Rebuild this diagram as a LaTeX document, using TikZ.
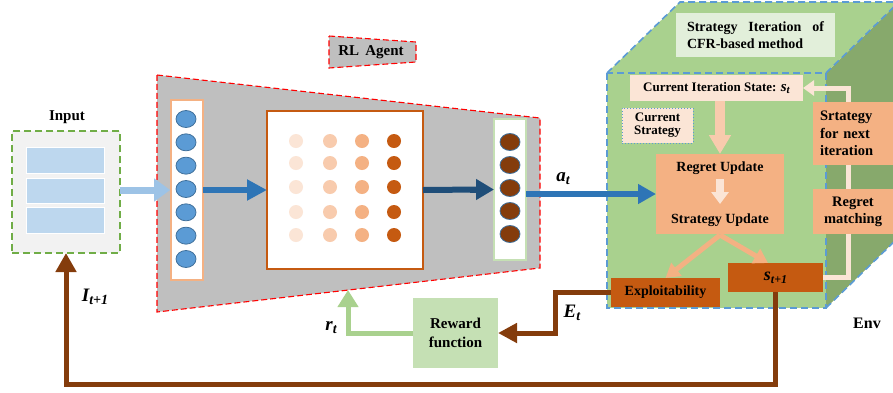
\documentclass[tikz,border=0pt]{standalone}
\usepackage{fontspec}
\setmainfont{Liberation Serif}
\usetikzlibrary{arrows.meta,shapes.geometric,calc}
\definecolor{inblue}{HTML}{BDD7EE}
\definecolor{ltblue}{HTML}{9DC3E6}
\definecolor{midblue}{HTML}{2E75B6}
\definecolor{dkblue}{HTML}{1F4E79}
\definecolor{nodeblue}{HTML}{5B9BD5}
\definecolor{nodeblueb}{HTML}{41719C}
\definecolor{agentgray}{HTML}{BFBFBF}
\definecolor{peachA}{HTML}{FBE5D6}
\definecolor{peachB}{HTML}{F8CBAD}
\definecolor{peachC}{HTML}{F4B183}
\definecolor{rust}{HTML}{C55A11}
\definecolor{brownc}{HTML}{843C0C}
\definecolor{lgreen}{HTML}{C5E0B4}
\definecolor{mgreen}{HTML}{A9D18E}
\definecolor{dgreen}{HTML}{87A96C}
\definecolor{pgreen}{HTML}{E2EFDA}
\definecolor{dashgreen}{HTML}{70AD47}
\definecolor{boxgray}{HTML}{F2F2F2}
\newcommand{\sbs}[2]{\raisebox{-0.35ex}{\fontsize{#1}{#1}\selectfont #2}}
\tikzset{
  plain/.style={inner sep=0pt, outer sep=0pt, align=center},
  lbl/.style={plain, font=\fontsize{14}{17}\selectfont\bfseries},
  mlab/.style={plain, font=\fontsize{19}{21}\selectfont\bfseries\itshape},
  lnode/.style={ellipse, draw=nodeblueb, line width=0.8pt, fill=nodeblue, minimum width=20pt, minimum height=17pt, inner sep=0pt},
  rnode/.style={ellipse, draw=nodeblueb, line width=0.8pt, fill=brownc, minimum width=20pt, minimum height=17pt, inner sep=0pt},
  envdash/.style={draw=nodeblue, line width=1.6pt, dash pattern=on 7pt off 4pt},
}
\begin{document}
\begin{tikzpicture}[x=1pt,y=-1pt]
\useasboundingbox (0,0) rectangle (893,392);
\clip (0,0) rectangle (893,392);
% ---------- Env cube ----------
\fill[dgreen] (826,73) -- (899,2) -- (899,237) -- (826,308) -- cycle;
\fill[mgreen] (607,73) -- (680,2) -- (899,2) -- (826,73) -- cycle;
\fill[mgreen] (607,73) rectangle (826,308);
\draw[envdash] (607,73) -- (680,2) -- (899,2);
\draw[envdash] (607,73) rectangle (826,308);
\draw[envdash] (826,73) -- (899,2);
\draw[envdash] (826,308) -- (899,237);
\node[plain, fill=pgreen, minimum width=159pt, minimum height=44pt, font=\fontsize{14}{17}\selectfont\bfseries, align=left] (sicfr) at (755.5,35)
  {\makebox[137pt][s]{Strategy Iteration of}\\CFR-based method};
% ---------- RL agent ----------
\draw[fill=agentgray, draw=red, line width=1.1pt, dash pattern=on 6pt off 3pt] (157,75) -- (540,118) -- (540,268) -- (157,312) -- cycle;
\coordinate (rtend) at (348,290);
\draw[fill=agentgray, draw=red, line width=1.1pt, dash pattern=on 6pt off 3pt] (329,36) -- (416,42) -- (416,62) -- (329,68) -- cycle;
\node[plain, font=\fontsize{15}{17}\selectfont\bfseries] (rla) at (371,52) {RL\,\ Agent};
% Input
\node[plain, fill=boxgray, draw=dashgreen, line width=1.8pt, dash pattern=on 7pt off 4pt, minimum width=108pt, minimum height=122pt] (inbox) at (66,192) {};
\node[plain, fill=inblue, draw=white, line width=1pt, minimum width=78pt, minimum height=26pt] (bar1) at (65.5,160.5) {};
\node[plain, fill=inblue, draw=white, line width=1pt, minimum width=78pt, minimum height=25pt] (bar2) at (65.5,191) {};
\node[plain, fill=inblue, draw=white, line width=1pt, minimum width=78pt, minimum height=26pt] (bar3) at (65.5,220.5) {};
\node[plain, font=\fontsize{15}{17}\selectfont\bfseries] (inlab) at (67,117) {Input};
% left column
\node[plain, fill=white, draw=peachC, line width=1.6pt, minimum width=32pt, minimum height=180pt] (lcol) at (187,190) {};
\foreach \i in {0,...,6} \node[lnode] (l\i) at (186,{119+\i*23.33}) {};
% middle box
\node[plain, fill=white, draw=rust, line width=2pt, minimum width=156pt, minimum height=158pt] (mid) at (345,190) {};
\foreach \x/\c in {296/peachA,330/peachB,362/peachC,394/rust}
  \foreach \y in {141,163,187,212,235}
    \fill[\c] (\x,\y) circle (7pt);
% right column
\node[plain, fill=white, draw=lgreen, line width=2pt, minimum width=32pt, minimum height=141pt] (rcol) at (510,189.5) {};
\foreach \i/\y in {1/142,2/165,3/188,4/211,5/234} \node[rnode] (r\i) at (510,\y) {};
% arrows in agent
\draw[ltblue, line width=7pt, -{Triangle[length=16pt,width=22pt]}] (inbox.east |- lcol.west) -- ([xshift=-0.8pt]lcol.west);
\draw[midblue, line width=6pt, -{Triangle[length=20pt,width=20pt]}] (lcol.east) -- (mid.west);
\draw[dkblue, line width=6pt] (mid.east) -- ([xshift=-14pt]rcol.west);
\draw[dkblue, line width=6pt, -{Triangle[length=18pt,width=20pt]}] ([xshift=-24pt]rcol.west) -- (rcol.west);
% ---------- Env content ----------
\node[plain, fill=peachA, minimum width=173pt, minimum height=26pt, font=\fontsize{13}{15}\selectfont\bfseries] (cis) at (716.5,88) {Current Iteration State: {\itshape\fontsize{15}{15}\selectfont s\sbs{11}{t}}};
\node[plain, fill=peachA, draw=nodeblue, line width=1pt, dotted, minimum width=71pt, minimum height=35pt, font=\fontsize{13}{13}\selectfont\bfseries] (cs) at (657.5,125.5) {Current\\Strategy};
\node[plain, fill=peachC, minimum width=128pt, minimum height=80pt] (ru) at (720,194) {};
\node[lbl] (rut) at (720,168) {Regret Update};
\node[lbl] (sut) at (720,220) {Strategy Update};
\draw[peachA, line width=8pt, -{Triangle[length=12pt,width=17pt]}] (720,179) -- (720,204);
\draw[peachB, line width=10pt, -{Triangle[length=19pt,width=21pt]}] (cis.south -| ru.north) -- (ru.north);
\node[plain, fill=rust, minimum width=109pt, minimum height=29pt, font=\fontsize{14}{17}\selectfont\bfseries] (exp) at (665.5,292.5) {Exploitability};
\node[plain, fill=rust, minimum width=95pt, minimum height=29pt, font=\fontsize{18}{19}\selectfont\bfseries\itshape] (snext) at (775.5,277.5) {s\sbs{12}{t+1}};
\coordinate (sufork) at (720,235);
\draw[peachC, line width=5pt, -{Triangle[length=14pt,width=16pt]}] (sufork) -- (exp.north);
\draw[peachC, line width=5pt, -{Triangle[length=14pt,width=16pt]}] (sufork) -- (snext.north -| 768,0);
% feedback loop
\coordinate (fbx) at (848,0);
\draw[peachA, line width=5pt, -{Triangle[length=11pt,width=15pt]}] (snext.east) -| (fbx |- cis.east) -- (cis.east);
\node[plain, fill=peachC, minimum width=80pt, minimum height=63pt, font=\fontsize{14.5}{17.5}\selectfont\bfseries, align=left, text width=66pt] (sn) at (853,133.5) {Srtategy\\for next\\iteration};
\node[plain, fill=peachC, minimum width=80pt, minimum height=45pt, font=\fontsize{14.5}{17}\selectfont\bfseries] (rm) at (853,211.5) {Regret\\matching};
\node[plain, font=\fontsize{16}{18}\selectfont\bfseries] (env) at (867,323) {Env};
% a_t
\draw[midblue, line width=6pt, -{Triangle[length=18pt,width=19pt]}] (rcol.east |- ru.west) -- (ru.west);
\node[mlab] (lat) at (563,179) {a\sbs{14}{t}};
% reward
\node[plain, fill=lgreen, minimum width=85pt, minimum height=70pt, font=\fontsize{15}{19}\selectfont\bfseries] (rf) at (455.5,333) {Reward\\function};
\coordinate (etx) at (555,0);
\draw[brownc, line width=5pt, -{Triangle[length=19pt,width=19pt]}] (exp.west) -- (etx |- exp.west) -- (etx |- rf.east) -- (rf.east);
\node[mlab] (let) at (572,313) {E\sbs{14}{t}};
\draw[mgreen, line width=5pt, -{Triangle[length=17pt,width=20pt]}] (rf.west) -| (rtend);
\node[mlab] (lrt) at (331,328) {r\sbs{14}{t}};
% bottom loop
\coordinate (loopy) at (0,384);
\draw[brownc, line width=5pt, -{Triangle[length=19pt,width=20pt]}] (snext.south) -- (snext.south |- loopy) -- (inbox.south |- loopy) -- (inbox.south);
\node[mlab] (lit) at (95,297) {I\sbs{14}{t+1}};
\end{tikzpicture}
\end{document}
